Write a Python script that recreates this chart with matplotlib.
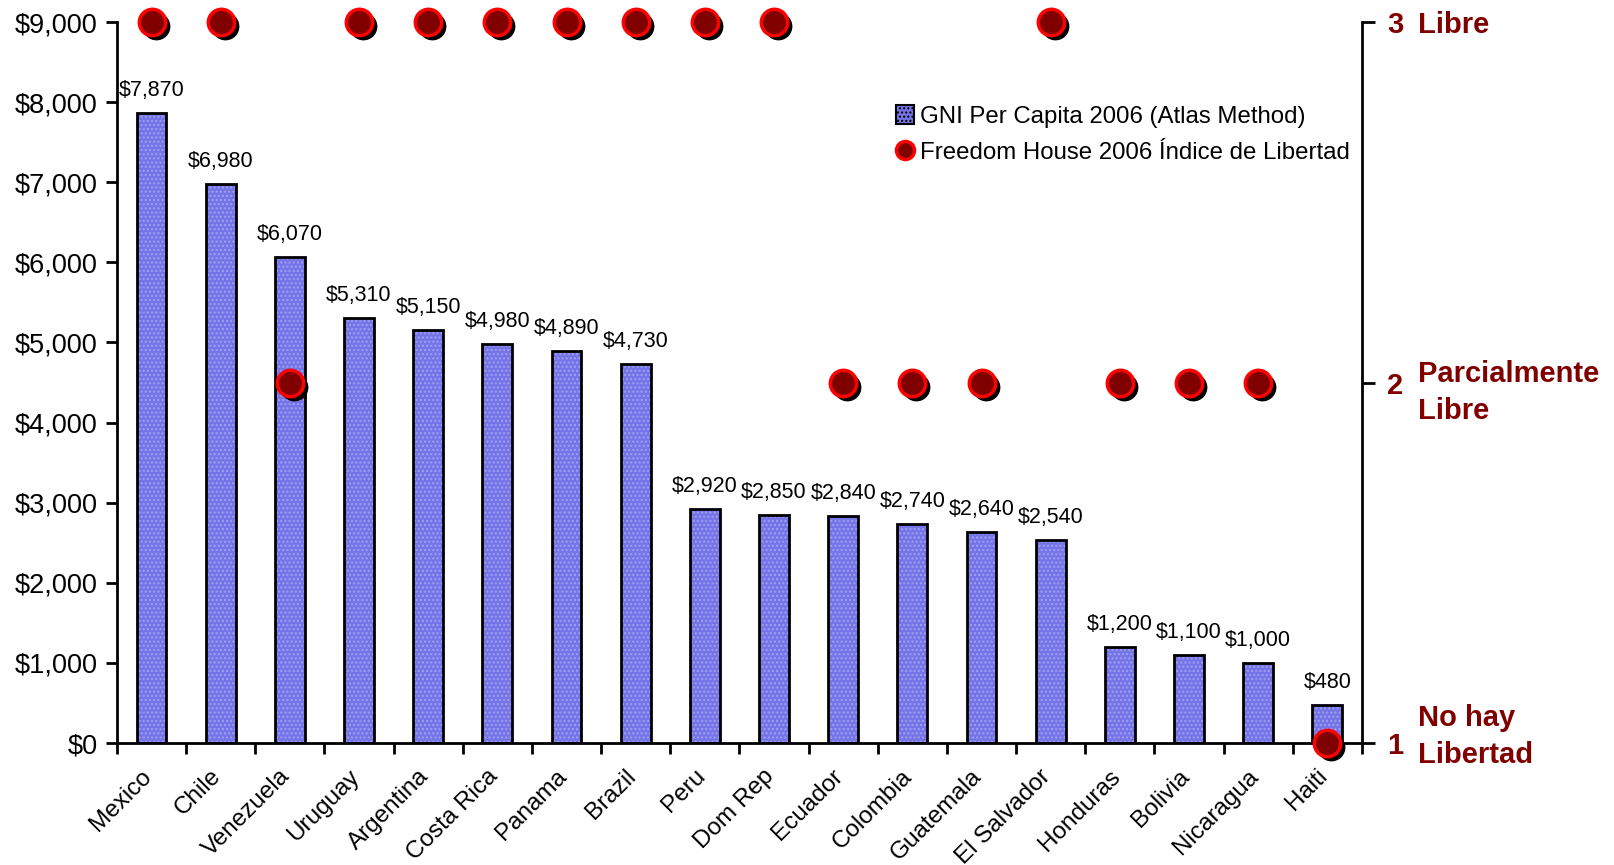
import numpy as np
import matplotlib
matplotlib.use('Agg')
import matplotlib.pyplot as plt
import matplotlib.transforms as mtransforms
from matplotlib.lines import Line2D
from matplotlib.patches import Patch

plt.rcParams['font.family'] = ['Liberation Sans', 'DejaVu Sans']

# datos
paises = ['Mexico', 'Chile', 'Venezuela', 'Uruguay', 'Argentina', 'Costa Rica',
          'Panama', 'Brazil', 'Peru', 'Dom Rep', 'Ecuador', 'Colombia',
          'Guatemala', 'El Salvador', 'Honduras', 'Bolivia', 'Nicaragua', 'Haiti']
gni = [7870, 6980, 6070, 5310, 5150, 4980, 4890, 4730, 2920, 2850, 2840, 2740,
       2640, 2540, 1200, 1100, 1000, 480]
libertad = [3, 3, 2, 3, 3, 3, 3, 3, 3, 3, 2, 2, 2, 3, 2, 2, 2, 1]
etiquetas_der = {3: 'Libre', 2: 'Parcialmente\nLibre', 1: 'No hay\nLibertad'}

rojo_osc = '#800000'
x = np.arange(len(paises))

fig = plt.figure(figsize=(16.15, 8.65), dpi=100)
ax = fig.add_axes([0.0724, 0.141, 0.7709, 0.8335])

# barras con textura de puntos
ax.bar(x, gni, width=0.43, color='#7474E6', edgecolor='#A0A0F6', hatch='....',
       linewidth=0, zorder=2)
ax.bar(x, gni, width=0.43, fill=False, edgecolor='black', linewidth=2, zorder=3)

for xi, v in zip(x, gni):
    ax.text(xi, v + 150, '${:,}'.format(v), ha='center', va='bottom', fontsize=15.5)

ax.set_xlim(-0.5, len(paises) - 0.5)
ax.set_ylim(0, 9000)
ax.set_yticks(np.arange(0, 9001, 1000))
ax.set_yticklabels(['${:,}'.format(t) for t in range(0, 9001, 1000)], fontsize=19.5)
ax.tick_params(axis='y', direction='out', length=8, width=2, pad=6)

ax.set_xticks(x)
ax.set_xticklabels(paises, rotation=45, ha='right', rotation_mode='anchor', fontsize=17.5)
ax.tick_params(axis='x', which='major', length=0, pad=16)
desplaza = mtransforms.ScaledTranslation(-11 / 100, 0, fig.dpi_scale_trans)
for lab in ax.get_xticklabels():
    lab.set_transform(lab.get_transform() + desplaza)
ax.set_xticks(np.arange(-0.5, len(paises), 1), minor=True)
ax.tick_params(axis='x', which='minor', direction='out', length=8, width=2)

for s in ['top', 'right']:
    ax.spines[s].set_visible(False)
for s in ['left', 'bottom']:
    ax.spines[s].set_linewidth(2)

# eje derecho: indice de libertad
ax2 = ax.twinx()
ax2.set_ylim(1, 3)
ax2.set_yticks([1, 2, 3])
ax2.set_yticklabels(['1', '2', '3'], fontsize=21, fontweight='bold', color=rojo_osc)
ax2.tick_params(axis='y', direction='out', length=9, width=2, pad=9)
for s in ['top', 'left', 'bottom']:
    ax2.spines[s].set_visible(False)
ax2.spines['right'].set_linewidth(2)

trans = mtransforms.blended_transform_factory(ax2.transAxes, ax2.transData)
ajuste_y = {3: -2, 2: -7, 1: 4.5}
for nivel, txt in etiquetas_der.items():
    tr = trans + mtransforms.ScaledTranslation(0, ajuste_y[nivel] / 72, fig.dpi_scale_trans)
    ax2.text(1.045, nivel, txt, transform=tr, ha='left', va='center',
             fontsize=21, fontweight='bold', color=rojo_osc, linespacing=1.42)

# puntos con sombra
sombra = mtransforms.offset_copy(ax2.transData, fig=fig, x=4, y=-4, units='dots')
ax2.plot(x, libertad, 'o', ms=19, color='black', transform=sombra,
         linestyle='none', clip_on=False, zorder=4)
ax2.plot(x, libertad, 'o', ms=19, mfc=rojo_osc, mec='#FF0000', mew=2.5,
         linestyle='none', clip_on=False, zorder=5)

handles = [Patch(facecolor='#7474E6', edgecolor='black', hatch='....', linewidth=1.5),
           Line2D([], [], marker='o', ms=13, mfc=rojo_osc, mec='#FF0000', mew=2.5,
                  linestyle='none')]
ax2.legend(handles, ['GNI Per Capita 2006 (Atlas Method)',
                     'Freedom House 2006 Índice de Libertad'],
           loc='upper right', bbox_to_anchor=(0.998, 0.898), frameon=False,
           fontsize=17.3, handlelength=0.75, handleheight=0.8, handletextpad=0.25,
           labelspacing=0.55, borderaxespad=0)

fig.savefig('out.png', dpi=100)
